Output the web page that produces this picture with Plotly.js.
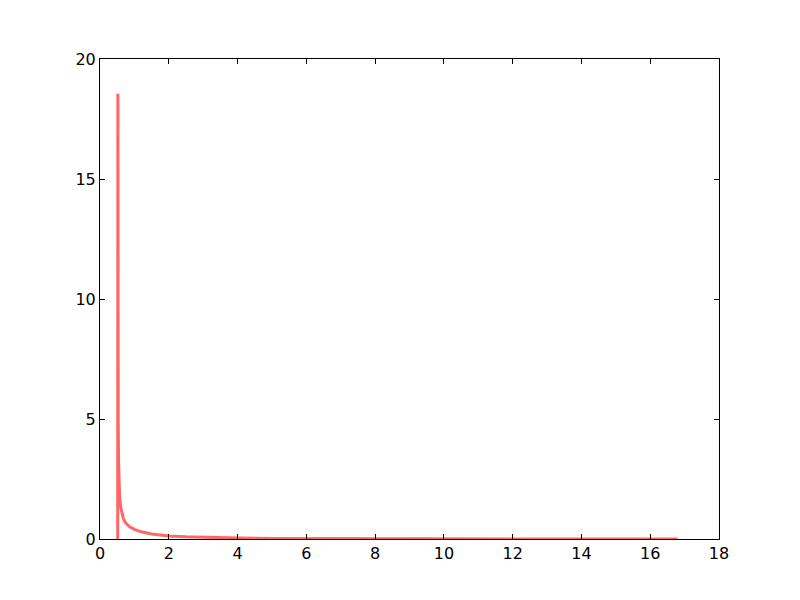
<!DOCTYPE html>
<html>
<head>
<meta charset="utf-8">
<script src="https://cdn.plot.ly/plotly-3.0.1.min.js"></script>
<style>html,body{margin:0;padding:0;background:#fff;}#chart{width:800px;height:600px;}</style>
</head>
<body>
<div id="chart"></div>
<script>
// Values
const xValues = [0.515, 0.52, 0.522, 0.525, 0.53, 0.54, 0.55, 0.57, 0.6, 0.63, 0.68, 0.75, 0.85, 1.0, 1.2, 1.5, 2.0, 2.5, 3.0, 3.5, 4.0, 5.0, 6.0, 7.0, 8.0, 10.0, 12.0, 14.0, 16.0, 16.8];
const yValues = [0.0, 18.55, 14.0, 8.0, 4.8, 3.2, 2.5, 1.8, 1.35, 1.1, 0.85, 0.66, 0.52, 0.4, 0.3, 0.21, 0.13, 0.09, 0.065, 0.05, 0.04, 0.026, 0.018, 0.013, 0.01, 0.006, 0.004, 0.003, 0.002, 0.002];
const xTicks = [0, 2, 4, 6, 8, 10, 12, 14, 16, 18];
const yTicks = [0, 5, 10, 15, 20];

const trace = {
  x: xValues, y: yValues, type: 'scatter', mode: 'lines',
  line: {color: 'rgba(255,0,0,0.6)', width: 3},
  hoverinfo: 'skip'
};
const axisCommon = {
  showgrid: false, zeroline: false, showline: true, linecolor: '#000', linewidth: 1,
  mirror: 'ticks', ticks: 'inside', ticklen: 5, tickcolor: '#000', tickwidth: 1,
  tickfont: {family: 'DejaVu Sans', size: 16, color: '#000'}
};
const layout = {
  width: 800, height: 600,
  margin: {l: 100, r: 81, t: 59, b: 61},
  paper_bgcolor: '#fff', plot_bgcolor: '#fff',
  showlegend: false,
  xaxis: Object.assign({}, axisCommon, {range: [0, 18], tickvals: xTicks, ticktext: xTicks.map(String)}),
  yaxis: Object.assign({}, axisCommon, {range: [0, 20], tickvals: yTicks, ticktext: yTicks.map(String)})
};
Plotly.newPlot('chart', [trace], layout, {staticPlot: true});
</script>
</body>
</html>
